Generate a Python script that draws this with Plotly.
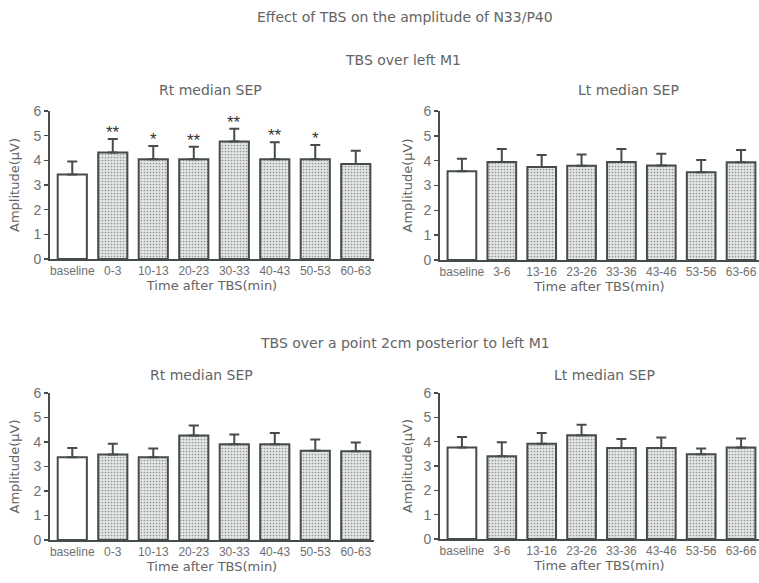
import plotly.graph_objects as go

# ---- data ----
cats_rt = ["baseline", "0-3", "10-13", "20-23", "30-33", "40-43", "50-53", "60-63"]
cats_lt = ["baseline", "3-6", "13-16", "23-26", "33-36", "43-46", "53-56", "63-66"]

m1_rt_mean = [3.43, 4.32, 4.04, 4.04, 4.76, 4.04, 4.04, 3.85]
m1_rt_sem = [0.52, 0.54, 0.54, 0.51, 0.52, 0.69, 0.58, 0.54]
m1_rt_sig = ["", "**", "*", "**", "**", "**", "*", ""]

m1_lt_mean = [3.57, 3.95, 3.75, 3.80, 3.95, 3.81, 3.53, 3.94]
m1_lt_sem = [0.51, 0.52, 0.48, 0.45, 0.52, 0.47, 0.50, 0.49]

post_rt_mean = [3.38, 3.49, 3.38, 4.27, 3.91, 3.91, 3.64, 3.62]
post_rt_sem = [0.38, 0.44, 0.35, 0.40, 0.40, 0.46, 0.46, 0.36]

post_lt_mean = [3.76, 3.40, 3.91, 4.26, 3.74, 3.74, 3.48, 3.76]
post_lt_sem = [0.43, 0.58, 0.45, 0.44, 0.37, 0.43, 0.24, 0.37]

y_ticks = [0, 1, 2, 3, 4, 5, 6]

W, H = 759, 583
TXT = "#646464"
TICK = "#707070"
LINE = "#464d49"
FONT = "Liberation Sans"
TFONT = "DejaVu Sans"


def px_x(a, b):
    return [a / W, b / W]


def px_y(top, bottom):
    return [1 - bottom / H, 1 - top / H]


panels = [
    # cats, mean, sem, sig, xdom(px), ydom(px top,bottom), ytitle standoff
    (cats_rt, m1_rt_mean, m1_rt_sem, m1_rt_sig, (50, 374), (111, 259), 11),
    (cats_lt, m1_lt_mean, m1_lt_sem, None, (440, 759), (111, 260), 8),
    (cats_rt, post_rt_mean, post_rt_sem, None, (50, 374), (393, 540), 11),
    (cats_lt, post_lt_mean, post_lt_sem, None, (440, 759), (393, 539), 8),
]

fig = go.Figure()
layout = {}
annotations = []

for i, (cats, mean, sem, sig, xd, yd, ystand) in enumerate(panels, start=1):
    xa = "x" if i == 1 else f"x{i}"
    ya = "y" if i == 1 else f"y{i}"
    fills = ["white"] + ["#e3e6e6"] * (len(cats) - 1)
    fig.add_trace(go.Bar(
        x=cats, y=mean, xaxis=xa, yaxis=ya, width=0.72,
        marker=dict(color=fills, line=dict(color=LINE, width=2),
                    pattern=dict(shape=["", ".", ".", ".", ".", ".", ".", "."],
                                 fgcolor="#b9bdbd", bgcolor="#e6e9e9",
                                 size=3, solidity=0.25)),
        error_y=dict(type="data", symmetric=False, array=sem,
                     arrayminus=[0] * len(sem), color=LINE,
                     thickness=2, width=5),
        showlegend=False, hoverinfo="skip",
    ))
    xkey = "xaxis" if i == 1 else f"xaxis{i}"
    ykey = "yaxis" if i == 1 else f"yaxis{i}"
    layout[xkey] = dict(
        domain=px_x(*xd), anchor=ya, range=[-0.55, 7.45],
        showline=True, linecolor=LINE, linewidth=2, ticks="",
        showgrid=False, zeroline=False, automargin=False,
        tickfont=dict(size=12, color=TICK, family=FONT),
        title=dict(text="Time after TBS(min)", standoff=0,
                   font=dict(size=13, color=TXT, family=TFONT)),
        fixedrange=True,
    )
    layout[ykey] = dict(
        domain=px_y(*yd), anchor=xa, range=[0, 6], tickvals=y_ticks,
        showline=True, linecolor=LINE, linewidth=2, ticks="outside",
        ticklen=4, tickwidth=1.5, tickcolor=LINE,
        showgrid=False, zeroline=False, automargin=False,
        tickfont=dict(size=14, color=TICK, family=FONT),
        title=dict(text="Amplitude(μV)", standoff=ystand,
                   font=dict(size=13, color=TXT, family=TFONT)),
        fixedrange=True,
    )
    if sig:
        for c, m, s, t in zip(cats, mean, sem, sig):
            if t:
                annotations.append(dict(
                    x=c, y=m + s, xref=xa, yref=ya, text=t, showarrow=False,
                    yanchor="bottom", yshift=-5,
                    font=dict(size=17, color="#333", family=FONT)))


def paper_text(text, xpx, ypx, size=12):
    annotations.append(dict(
        text=text, x=xpx / W, y=1 - ypx / H, xref="paper", yref="paper",
        showarrow=False, xanchor="center", yanchor="middle",
        font=dict(size=size, color=TXT, family=TFONT)))


paper_text("Effect of TBS on the amplitude of N33/P40", 405, 17, 14)
paper_text("TBS over left M1", 403, 60, 14)
paper_text("TBS over a point 2cm posterior to left M1", 405, 343, 14)
paper_text("Rt median SEP", 210, 90, 14)
paper_text("Lt median SEP", 628, 90, 14)
paper_text("Rt median SEP", 202, 375, 14)
paper_text("Lt median SEP", 604, 375, 14)

fig.update_layout(
    width=W, height=H,
    margin=dict(l=0, r=0, t=0, b=0),
    paper_bgcolor="white", plot_bgcolor="white",
    annotations=annotations,
    bargap=0.28,
    **layout,
)

fig.write_html("out.html",
               config={"displayModeBar": False, "staticPlot": True},
               post_script="document.body.style.margin='0';"
                           "document.body.style.overflow='hidden';")
